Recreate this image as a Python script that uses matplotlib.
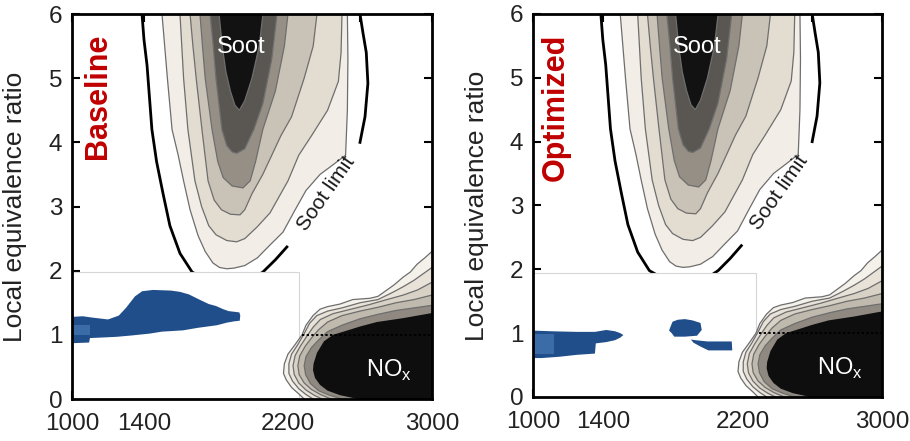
import matplotlib
matplotlib.use("Agg")
import matplotlib.pyplot as plt
from matplotlib.patches import Rectangle

plt.rcParams['font.family'] = ['Liberation Sans', 'DejaVu Sans']
plt.rcParams['mathtext.fontset'] = 'custom'
plt.rcParams['mathtext.rm'] = 'Liberation Sans'

# ---- data: T [K] vs local equivalence ratio ----

# soot contour levels, outer (pale) to inner (black); left branch top->tip, right branch tip->top
soot_left = [
    [(1500, 6.3), (1500, 6.0), (1515, 5.5), (1530, 5.0), (1556, 4.2), (1590, 3.8), (1620, 3.4),
     (1656, 2.95), (1700, 2.55), (1740, 2.3), (1783, 2.12), (1820, 2.05), (1860, 2.03)],
    [(1600, 6.3), (1600, 6.0), (1610, 5.5), (1620, 5.0), (1644, 4.2), (1683, 3.4), (1720, 3.0),
     (1760, 2.7), (1800, 2.56), (1860, 2.47), (1915, 2.45)],
    [(1656, 6.3), (1656, 6.0), (1672, 5.5), (1690, 5.0), (1722, 4.2), (1756, 3.4), (1790, 3.1),
     (1830, 2.95), (1880, 2.88), (1933, 2.87)],
    [(1711, 6.3), (1711, 6.0), (1725, 5.5), (1740, 5.0), (1778, 4.2), (1810, 3.7), (1840, 3.45),
     (1890, 3.32), (1950, 3.29)],
    [(1767, 6.3), (1767, 6.0), (1785, 5.5), (1800, 5.0), (1833, 4.2), (1860, 3.95), (1890, 3.85),
     (1915, 3.83)],
    [(1817, 6.3), (1817, 6.0), (1835, 5.5), (1855, 5.1), (1880, 4.8), (1905, 4.58), (1930, 4.5)],
]
soot_right = [
    [(1900, 2.04), (1960, 2.08), (2030, 2.2), (2100, 2.4), (2172, 2.6), (2240, 2.95), (2300, 3.25),
     (2378, 3.5), (2450, 3.65), (2520, 3.8), (2530, 4.5), (2533, 5.3), (2530, 6.0), (2530, 6.3)],
    [(1960, 2.5), (2028, 2.68), (2100, 2.9), (2200, 3.4), (2260, 3.8), (2330, 4.1), (2420, 4.5),
     (2480, 4.95), (2495, 5.4), (2500, 6.0), (2500, 6.3)],
    [(1960, 2.95), (2000, 3.2), (2060, 3.5), (2160, 4.1), (2220, 4.4), (2290, 5.0), (2340, 5.5),
     (2361, 6.0), (2361, 6.3)],
    [(1990, 3.4), (2020, 3.7), (2060, 4.2), (2130, 4.8), (2180, 5.5), (2200, 6.0), (2200, 6.3)],
    [(1960, 3.9), (2010, 4.2), (2060, 4.6), (2110, 5.3), (2139, 6.0), (2139, 6.3)],
    [(1960, 4.65), (2000, 5.0), (2040, 5.5), (2061, 6.0), (2061, 6.3)],
]
soot_colors = ['#f2eee7', '#e2dcd1', '#c9c2b6', '#958f86', '#5a5753', '#121212']

# soot limit (thick line), split around its label
soot_limit_a = [(1389, 6.0), (1400, 5.6), (1417, 5.2), (1444, 4.2), (1470, 3.7), (1506, 3.2),
                (1544, 2.7), (1600, 2.27), (1667, 1.98), (1750, 1.85), (1870, 1.8), (1990, 1.85),
                (2061, 1.98), (2130, 2.17), (2194, 2.37)]
soot_limit_b = [(2600, 4.0), (2628, 4.4), (2644, 4.92), (2635, 5.4), (2617, 5.7), (2600, 6.0)]

# NOx contour levels, outer to inner (right spine -> around the nose -> bottom)
nox_levels = [
    [(3000, 2.3), (2960, 2.2), (2917, 2.1), (2880, 1.98), (2840, 1.9), (2790, 1.78), (2750, 1.7),
     (2700, 1.6), (2656, 1.57), (2560, 1.55), (2489, 1.48), (2420, 1.44), (2378, 1.4), (2339, 1.3),
     (2300, 1.15), (2278, 1.0), (2240, 0.85), (2200, 0.7), (2180, 0.55), (2175, 0.4), (2190, 0.3),
     (2220, 0.18), (2260, 0.08), (2290, 0.0)],
    [(3000, 2.05), (2950, 1.95), (2900, 1.85), (2840, 1.75), (2780, 1.66), (2700, 1.55),
     (2600, 1.5), (2500, 1.42), (2420, 1.37), (2360, 1.3), (2320, 1.18), (2290, 1.02), (2255, 0.85),
     (2220, 0.7), (2205, 0.55), (2205, 0.4), (2225, 0.28), (2260, 0.16), (2300, 0.07), (2340, 0.0)],
    [(3000, 1.82), (2920, 1.7), (2840, 1.62), (2750, 1.55), (2650, 1.47), (2550, 1.4), (2450, 1.33),
     (2380, 1.24), (2340, 1.12), (2305, 0.98), (2270, 0.83), (2240, 0.68), (2228, 0.52),
     (2235, 0.38), (2260, 0.25), (2300, 0.14), (2345, 0.06), (2390, 0.0)],
    [(3000, 1.62), (2900, 1.55), (2800, 1.5), (2700, 1.43), (2600, 1.37), (2500, 1.3), (2420, 1.2),
     (2370, 1.08), (2330, 0.95), (2295, 0.82), (2265, 0.67), (2255, 0.52), (2262, 0.38),
     (2290, 0.25), (2330, 0.15), (2380, 0.07), (2440, 0.0)],
    [(3000, 1.46), (2900, 1.42), (2800, 1.38), (2700, 1.32), (2600, 1.25), (2500, 1.15),
     (2420, 1.05), (2370, 0.92), (2330, 0.8), (2300, 0.66), (2290, 0.52), (2298, 0.38),
     (2325, 0.24), (2370, 0.13), (2430, 0.06), (2500, 0.0)],
    [(3000, 1.34), (2839, 1.26), (2694, 1.2), (2600, 1.13), (2520, 1.06), (2450, 1.0), (2400, 0.9),
     (2361, 0.72), (2342, 0.55), (2339, 0.45), (2350, 0.33), (2378, 0.22), (2420, 0.13),
     (2489, 0.06), (2589, 0.0)],
]
nox_colors = ['#f4f1eb', '#e8e2d9', '#d8d1c5', '#c0b9ad', '#8f8981', '#0e0e0e']

# blue (engine) regions
baseline_blobs = [
    [(1000, 1.28), (1060, 1.29), (1110, 1.27), (1200, 1.24), (1260, 1.3), (1300, 1.42), (1350, 1.6),
     (1390, 1.68), (1450, 1.70), (1550, 1.69), (1600, 1.67), (1650, 1.63), (1700, 1.56),
     (1760, 1.48), (1800, 1.45), (1840, 1.40), (1870, 1.37), (1900, 1.36), (1930, 1.35),
     (1935, 1.3), (1932, 1.22), (1900, 1.21), (1860, 1.19), (1806, 1.15), (1700, 1.11),
     (1617, 1.07), (1500, 1.05), (1433, 1.02), (1330, 0.99), (1250, 0.97), (1180, 0.96),
     (1100, 0.95), (1095, 0.88), (1000, 0.87)],
]
baseline_patch = [(1000, 1.0), (1100, 1.0), (1100, 1.15), (1000, 1.15)]

optimized_blobs = [
    [(1000, 1.04), (1100, 1.03), (1250, 1.02), (1355, 1.02), (1420, 1.05), (1470, 1.03),
     (1500, 1.0), (1518, 0.97), (1500, 0.93), (1470, 0.89), (1420, 0.86), (1360, 0.84),
     (1355, 0.68), (1250, 0.66), (1150, 0.63), (1050, 0.61), (1000, 0.61)],
    [(1785, 1.08), (1800, 1.18), (1830, 1.21), (1871, 1.22), (1914, 1.2), (1960, 1.16),
     (1967, 1.05), (1940, 0.96), (1871, 0.945), (1810, 0.945), (1795, 1.0), (1780, 1.04)],
    [(1905, 0.9), (1930, 0.89), (2000, 0.87), (2139, 0.87), (2142, 0.73), (2005, 0.73),
     (1960, 0.79), (1920, 0.85)],
]
optimized_patch = [(1000, 0.68), (1120, 0.68), (1120, 0.99), (1000, 0.99)]

x_ticks = [1000, 1400, 1800, 2200, 2600, 3000]
x_ticklabels = ['1000', '1400', '', '2200', '', '3000']
y_ticks = [0, 1, 2, 3, 4, 5, 6]

blue = '#1f4e8b'
blue_light = '#3c6ca8'
line_grey = '#6e6e6e'


def xs(pts):
    return [p[0] for p in pts]


def ys(pts):
    return [p[1] for p in pts]


def draw_panel(ax, blobs, patch, tag, rect_right, rect_top, label_x):
    # soot islands
    for left, right, c in zip(soot_left, soot_right, soot_colors):
        pts = left + right
        ax.fill(xs(pts), ys(pts), facecolor=c, edgecolor=line_grey, lw=0.9, zorder=2)
    ax.plot(xs(soot_limit_a), ys(soot_limit_a), color='black', lw=2.0, zorder=3)
    ax.plot(xs(soot_limit_b), ys(soot_limit_b), color='black', lw=2.0, zorder=3)

    # white pasted box over the lean/low-T corner
    ax.add_patch(Rectangle((990, -0.1), rect_right - 990, rect_top + 0.1, facecolor='white',
                           edgecolor='#d6d6d6', lw=0.8, zorder=4))

    # NOx region
    for lvl, c in zip(nox_levels, nox_colors):
        pts = [(3100, lvl[0][1])] + lvl + [(lvl[-1][0], -0.3), (3100, -0.3)]
        ax.fill(xs(pts), ys(pts), facecolor=c,
                edgecolor=line_grey if c != '#0e0e0e' else 'none', lw=0.9, zorder=5)
    ax.plot([rect_right + 15, 3000], [1.0, 1.0], color='black', ls=(0, (1.2, 1.2)), lw=1.4, zorder=6)

    # engine regions
    for b in blobs:
        ax.fill(xs(b), ys(b), facecolor=blue, edgecolor='none', zorder=7)
    ax.fill(xs(patch), ys(patch), facecolor=blue_light, edgecolor='none', zorder=8)

    ax.text(1940, 5.48, 'Soot', color='white', fontsize=17, ha='center', va='center', zorder=9)
    ax.text(2410, 3.2, 'Soot limit', color='#1a1a1a', fontsize=15, rotation=55,
            ha='center', va='center', zorder=9)
    ax.text(2760, 0.45, r'NO$_\mathrm{x}$', color='white', fontsize=17, ha='center',
            va='center', zorder=9)
    ax.text(label_x, 0.95, tag, transform=ax.transAxes, color='#c00000', fontsize=22,
            fontweight='bold', rotation=90, ha='center', va='top', zorder=9)

    ax.set_xlim(1000, 3000)
    ax.set_ylim(0, 6)
    ax.set_xticks(x_ticks)
    ax.set_xticklabels(x_ticklabels)
    ax.set_yticks(y_ticks)
    ax.tick_params(direction='in', length=6, width=1.5, top=True, right=True,
                   labelsize=17.5, labelcolor='#222222')
    ax.tick_params(axis='x', pad=10)
    ax.tick_params(axis='y', pad=7)
    for s in ax.spines.values():
        s.set_linewidth(2.0)
        s.set_zorder(10)
    ax.set_ylabel('Local equivalence ratio', fontsize=19, color='#222222')


fig = plt.figure(figsize=(9.1, 4.41), dpi=100)
ax1 = fig.add_axes([0.0791, 0.0952, 0.3956, 0.873])
ax2 = fig.add_axes([0.5857, 0.0998, 0.3835, 0.8685])

draw_panel(ax1, baseline_blobs, baseline_patch, 'Baseline', 2261, 1.98, 0.071)
draw_panel(ax2, optimized_blobs, optimized_patch, 'Optimized', 2278, 1.95, 0.064)
ax1.yaxis.set_label_coords(-0.125, 0.5)
ax2.yaxis.set_label_coords(-0.125, 0.5)

fig.savefig('out.png', dpi=100)
